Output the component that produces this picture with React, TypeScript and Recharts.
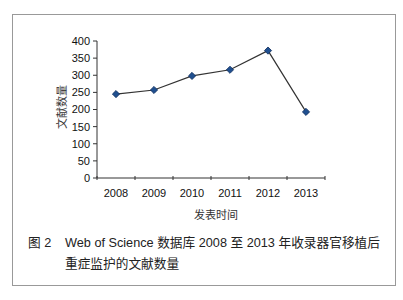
import React from "react";
import { LineChart, Line, XAxis, YAxis } from "recharts";

const years = ["2008", "2009", "2010", "2011", "2012", "2013"];
const counts = [245, 257, 298, 316, 372, 193];
const yTicks = [0, 50, 100, 150, 200, 250, 300, 350, 400];

const data = years.map((year, i) => ({ year, count: counts[i] }));

const latin = "'Liberation Sans', Arial, sans-serif";
const cjk = "'Liberation Sans', 'Noto Sans CJK SC', sans-serif";
const HALF = 19;

function YearTick(props: any) {
  const { x, y, payload, index } = props;
  const axisY = y - 9;
  return (
    <g>
      <line x1={x - HALF} x2={x - HALF} y1={axisY - 2} y2={axisY + 2} stroke="#333" />
      {index === years.length - 1 && (
        <line x1={x + HALF} x2={x + HALF} y1={axisY - 2} y2={axisY + 2} stroke="#333" />
      )}
      <text x={x} y={y + 10} textAnchor="middle" fontSize={11} fill="#111" fontFamily={latin}>
        {payload.value}
      </text>
    </g>
  );
}

function Diamond(props: any) {
  const { cx, cy } = props;
  const r = 3.6;
  return (
    <path
      d={`M${cx},${cy - r} L${cx + r},${cy} L${cx},${cy + r} L${cx - r},${cy} Z`}
      fill="#1f4f8f"
      stroke="#0e2c5c"
      strokeWidth={0.8}
    />
  );
}

export default function App() {
  return (
    <div style={{ position: "absolute", left: 0, top: 0, width: 403, height: 300, background: "#fff" }}>
      <div
        style={{
          position: "absolute",
          left: 12,
          top: 14,
          width: 382,
          height: 270,
          border: "1px solid #999",
        }}
      />
      <div style={{ position: "absolute", left: 0, top: 0 }}>
        <LineChart
          width={403}
          height={230}
          data={data}
          margin={{ top: 41, right: 78, bottom: 22, left: 57 }}
        >
          <XAxis
            dataKey="year"
            height={30}
            padding={{ left: HALF, right: HALF }}
            stroke="#333"
            tickLine={false}
            tickSize={3}
            tickMargin={6}
            tick={<YearTick />}
            interval={0}
          />
          <YAxis
            width={40}
            domain={[0, 400]}
            ticks={yTicks}
            interval={0}
            stroke="#333"
            tickSize={4}
            tickMargin={3}
            tick={{ fontSize: 11, fill: "#111", fontFamily: latin }}
          />
          <Line
            dataKey="count"
            stroke="#333"
            strokeWidth={1.2}
            dot={<Diamond />}
            activeDot={false}
            isAnimationActive={false}
          />
        </LineChart>
      </div>
      <div
        style={{
          position: "absolute",
          left: 62,
          top: 107,
          transform: "translate(-50%, -50%) rotate(-90deg)",
          fontSize: 11,
          fontFamily: cjk,
          color: "#333",
          whiteSpace: "nowrap",
          lineHeight: 1,
        }}
      >
        文献数量
      </div>
      <div
        style={{
          position: "absolute",
          left: 216,
          top: 215,
          transform: "translate(-50%, -50%)",
          fontSize: 11,
          fontFamily: cjk,
          color: "#333",
          whiteSpace: "nowrap",
          lineHeight: 1,
        }}
      >
        发表时间
      </div>
      <div
        style={{
          position: "absolute",
          left: 28,
          top: 233,
          fontSize: 12.7,
          fontFamily: cjk,
          color: "#222",
          whiteSpace: "nowrap",
          lineHeight: "21px",
        }}
      >
        <div>
          <span style={{ display: "inline-block", width: 37 }}>图 2</span>
          Web of Science 数据库 2008 至 2013 年收录器官移植后
        </div>
        <div style={{ paddingLeft: 37 }}>重症监护的文献数量</div>
      </div>
    </div>
  );
}
